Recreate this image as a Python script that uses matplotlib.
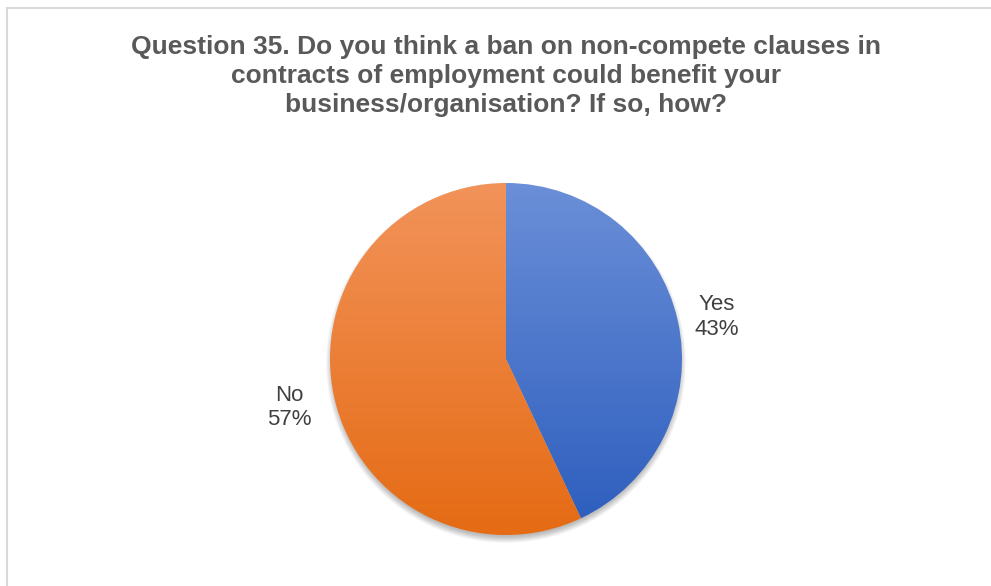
import matplotlib
matplotlib.use("Agg")
import matplotlib.pyplot as plt
import numpy as np
from matplotlib.colors import LinearSegmentedColormap
from matplotlib.patches import Circle, Rectangle

categories = ["Yes", "No"]
values = [43, 57]
pct_labels = ["43%", "57%"]
title = ("Question 35. Do you think a ban on non-compete clauses in\n"
         "contracts of employment could benefit your\n"
         "business/organisation? If so, how?")

W, H = 991, 586
fig = plt.figure(figsize=(W / 100, H / 100), dpi=100)
fig.patch.set_facecolor("white")
ax = fig.add_axes([0, 0, 1, 1])
ax.set_xlim(0, W)
ax.set_ylim(0, H)
ax.set_aspect("equal")
ax.axis("off")

# chart border (light gray)
ax.add_patch(Rectangle((7, -10), W + 20, H - 8 + 10, fill=False,
                       edgecolor="#d9d9d9", linewidth=1.5))

cx, cy, R = 506, 586 - 359, 176

# soft shadow below pie
for i in range(12):
    ax.add_patch(Circle((cx, cy - 4), R + 4 - i * 0.6, facecolor="black",
                        alpha=0.025, edgecolor="none", zorder=1))

wedges, _ = ax.pie(values, center=(cx, cy), radius=R, startangle=90,
                   counterclock=False, frame=True,
                   wedgeprops=dict(edgecolor="none", linewidth=0))
ax.set_xlim(0, W)
ax.set_ylim(0, H)
ax.axis("off")

grads = [("#6b8fd8", "#2c5dbd"), ("#f2935a", "#e56b14")]
yy = np.linspace(0, 1, 256).reshape(-1, 1)
for w, (top, bot) in zip(wedges, grads):
    w.set_facecolor("none")
    w.set_zorder(3)
    cmap = LinearSegmentedColormap.from_list("g", [bot, top])
    im = ax.imshow(yy, cmap=cmap, origin="lower", aspect="auto",
                   extent=(cx - R, cx + R, cy - R, cy + R), zorder=2,
                   interpolation="bilinear")
    im.set_clip_path(w)

ax.set_xlim(0, W)
ax.set_ylim(0, H)

label_dist = [1.225, 1.26]
label_shift = [(0, -5), (0, 0)]
for w, cat, pl, d, (sx, sy) in zip(wedges, categories, pct_labels,
                                   label_dist, label_shift):
    th = np.deg2rad((w.theta1 + w.theta2) / 2)
    ax.text(cx + R * d * np.cos(th) + sx, cy + R * d * np.sin(th) + sy,
            f"{cat}\n{pl}", ha="center", va="center", fontsize=16,
            color="#404040", family="Liberation Sans", linespacing=1.2,
            zorder=5)

ax.text(506, 586 - 76, title, ha="center", va="center",
        fontsize=19, fontweight="bold", color="#595959",
        family="Liberation Sans", linespacing=1.28)

fig.savefig("out.png", dpi=100)
